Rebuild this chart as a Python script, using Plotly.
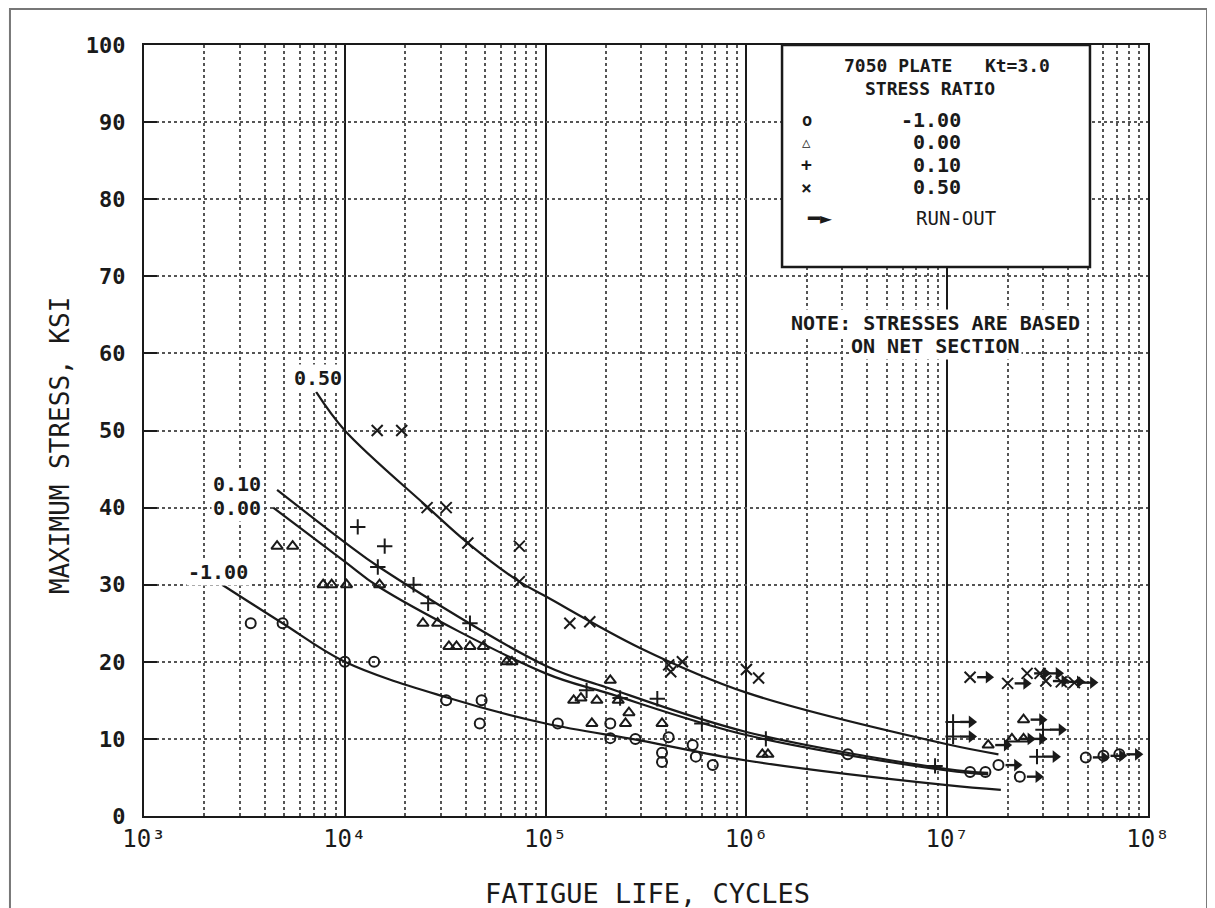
import numpy as np
import plotly.graph_objects as go

# ---------------- data ----------------
# Fitted curves (N cycles, max stress ksi)
C050_N = [7.2e3, 1.0e4, 2.6e4, 4.1e4, 7.4e4, 1.0e5, 2.95e5, 1.0e6, 1.0e7, 1.8e7]
C050_S = [55, 50, 40, 35.4, 30.4, 28.5, 21.8, 16.0, 9.3, 8.0]
C010_N = [4.6e3, 1.0e4, 1.48e4, 1.0e5, 2.0e5, 1.0e6, 1.0e7, 1.6e7]
C010_S = [42.3, 35.5, 32.3, 19.5, 16.7, 10.9, 6.1, 5.6]
C000_N = [4.4e3, 1.0e4, 1.48e4, 1.0e5, 2.0e5, 1.0e6, 1.0e7, 1.6e7]
C000_S = [40.0, 33.0, 29.7, 18.5, 16.0, 10.5, 5.9, 5.4]
CM100_N = [2.45e3, 4.9e3, 1.0e4, 3.2e4, 1.0e5, 2.95e5, 1.0e6, 1.0e7, 1.85e7]
CM100_S = [30, 25, 20, 15.4, 12, 9.8, 7.2, 4.0, 3.4]

# Test points, R = -1.00 (circles)
RM100_N = [3.4e3, 4.9e3, 1.0e4, 1.4e4, 3.2e4, 4.8e4, 4.7e4, 1.15e5, 2.1e5, 2.1e5,
           2.8e5, 4.1e5, 3.8e5, 3.8e5, 5.4e5, 5.6e5, 6.8e5, 3.2e6, 1.3e7, 1.55e7]
RM100_S = [25, 25, 20, 20, 15, 15, 12, 12, 12, 10.1,
           10, 10.2, 8.2, 7.0, 9.2, 7.7, 6.6, 8.0, 5.7, 5.7]
RM100_RUN_N = [1.8e7, 2.3e7, 4.9e7, 6.0e7, 7.2e7]
RM100_RUN_S = [6.6, 5.1, 7.6, 7.8, 8.0]

# R = 0.00 (triangles)
R000_N = [4.6e3, 5.5e3, 7.8e3, 8.6e3, 1.02e4, 1.49e4, 2.45e4, 2.9e4, 3.3e4, 3.6e4,
          4.2e4, 4.9e4, 6.4e4, 6.8e4, 1.38e5, 1.5e5, 1.8e5, 2.3e5, 2.1e5, 1.7e5,
          2.6e5, 2.5e5, 3.8e5, 1.2e6, 1.28e6]
R000_S = [35, 35, 30, 30, 30, 30, 25, 25, 22, 22,
          22, 22, 20, 20, 15, 15.3, 15, 15, 17.6, 12,
          13.4, 12, 12, 8, 8]
R000_RUN_N = [2.4e7, 1.6e7, 2.1e7, 2.4e7]
R000_RUN_S = [12.5, 9.2, 10.0, 10.0]

# R = 0.10 (plus)
R010_N = [1.16e4, 1.58e4, 1.46e4, 2.2e4, 2.6e4, 4.2e4, 1.6e5, 2.35e5, 3.6e5, 6.0e5,
          1.25e6, 8.7e6]
R010_S = [37.5, 35, 32.3, 30, 27.6, 25, 16.3, 15.3, 15.2, 12,
          10, 6.5]
R010_RUN_N = [1.07e7, 1.07e7, 3.0e7, 2.8e7]
R010_RUN_S = [12.2, 10.3, 11.2, 7.7]

# R = 0.50 (x)
R050_N = [1.45e4, 1.92e4, 2.57e4, 3.2e4, 4.1e4, 7.4e4, 7.4e4, 1.32e5, 1.66e5, 4.1e5,
          4.2e5, 4.8e5, 1.0e6, 1.15e6]
R050_S = [50, 50, 40, 40, 35.4, 35, 30.4, 25, 25.2, 19.6,
          18.7, 20, 19, 17.9]
R050_RUN_N = [1.3e7, 2.0e7, 2.5e7, 2.9e7, 3.1e7, 3.7e7, 4.3e7]
R050_RUN_S = [18, 17.2, 18.5, 18.5, 17.5, 17.4, 17.3]

X_TICKS = [1e3, 1e4, 1e5, 1e6, 1e7, 1e8]
X_TICKTEXT = ["10³", "10⁴", "10⁵", "10⁶", "10⁷", "10⁸"]
Y_TICKS = list(range(0, 101, 10))

# ---------------- figure ----------------
FONT = "DejaVu Sans Mono"
INK = "#1a1a1a"

fig = go.Figure()

for cn, cs in [(C050_N, C050_S), (C010_N, C010_S), (C000_N, C000_S), (CM100_N, CM100_S)]:
    fig.add_trace(go.Scatter(x=cn, y=cs, mode="lines",
                             line=dict(color=INK, width=2.2, shape="spline"),
                             hoverinfo="skip", showlegend=False))

# run-out arrow geometry: a fixed offset along the log axis, right of each point
SHAFT0, SHAFT1 = 10 ** 0.035, 10 ** 0.092

series = [
    (RM100_N, RM100_S, RM100_RUN_N, RM100_RUN_S, "circle-open", 10),
    (R000_N, R000_S, R000_RUN_N, R000_RUN_S, "triangle-up-open", 10),
    (R010_N, R010_S, R010_RUN_N, R010_RUN_S, "cross-thin-open", 11),
    (R050_N, R050_S, R050_RUN_N, R050_RUN_S, "x-thin-open", 11),
]
for n, s, rn, rs, sym, sz in series:
    fig.add_trace(go.Scatter(x=n + rn, y=s + rs, mode="markers",
                             marker=dict(symbol=sym, size=sz, color=INK,
                                         line=dict(width=2, color=INK)),
                             showlegend=False))
    sx, sy = [], []
    for xn, ys in zip(rn, rs):
        sx += [xn * SHAFT0, xn * SHAFT1, None]
        sy += [ys, ys, None]
    fig.add_trace(go.Scatter(x=sx, y=sy, mode="lines",
                             line=dict(color=INK, width=2.4),
                             hoverinfo="skip", showlegend=False))
    fig.add_trace(go.Scatter(x=[xn * SHAFT1 for xn in rn], y=rs, mode="markers",
                             marker=dict(symbol="triangle-right", size=11, color=INK),
                             hoverinfo="skip", showlegend=False))

minor_x = [m * 10 ** d for d in range(3, 8) for m in range(2, 10)]

fig.update_xaxes(type="log", range=[3, 8], tickvals=X_TICKS, ticktext=X_TICKTEXT,
                 showgrid=True, gridcolor=INK, gridwidth=2,
                 showline=True, linecolor=INK, linewidth=2, mirror=True,
                 ticks="", ticklabelstandoff=0,
                 tickfont=dict(family=FONT, size=24, color=INK),
                 minor=dict(tickvals=minor_x, showgrid=True, gridcolor="#555",
                            griddash="dot", gridwidth=1.6, ticks=""),
                 zeroline=False)
fig.update_yaxes(range=[0, 100], tickvals=Y_TICKS,
                 showgrid=True, gridcolor="#555", griddash="dot", gridwidth=1.6,
                 showline=True, linecolor=INK, linewidth=2, mirror=True,
                 ticks="inside", ticklen=13, tickwidth=2, tickcolor=INK,
                 ticklabelstandoff=12,
                 tickfont=dict(family=FONT, size=22, color=INK, weight="bold"),
                 zeroline=False)

# outer frame
fig.add_shape(type="rect", xref="paper", yref="paper",
              x0=-0.1335, x1=1.0588, y0=-0.2, y1=1.0467,
              line=dict(color="#777", width=2), fillcolor="rgba(0,0,0,0)", layer="below")

# legend box
fig.add_shape(type="rect", xref="paper", yref="paper",
              x0=0.6355, x1=0.9422, y0=0.712, y1=1.0,
              line=dict(color=INK, width=2.5), fillcolor="white", layer="above")

def txt(x, y, t, size=19, xanchor="center", bg=None, weight="bold"):
    fig.add_annotation(x=x, y=y, xref="paper", yref="paper",
                       text=t, showarrow=False, xanchor=xanchor, yanchor="middle",
                       font=dict(family=FONT, size=size, color=INK, weight=weight),
                       bgcolor=bg)

txt(0.800, 0.9735, "7050 PLATE   Kt=3.0", size=18)
txt(0.783, 0.9435, "STRESS RATIO", size=18)
txt(0.660, 0.9027, "o", size=17)
txt(0.660, 0.8742, "△", size=14)
txt(0.660, 0.8444, "+", size=18)
txt(0.660, 0.8158, "×", size=18)
txt(0.8157, 0.9027, "-1.00", xanchor="right", size=20)
txt(0.8157, 0.8742, "0.00", xanchor="right", size=20)
txt(0.8157, 0.8444, "0.10", xanchor="right", size=20)
txt(0.8157, 0.8158, "0.50", xanchor="right", size=20)
txt(0.809, 0.7756, "RUN-OUT", size=19, weight="normal")
txt(0.6725, 0.7756, "━►", size=20, weight="bold")

# note
txt(0.788, 0.6394, "NOTE: STRESSES ARE BASED", size=20, bg="white")
txt(0.788, 0.6096, "ON NET SECTION", size=20, bg="white")

# curve labels (data coordinates)
for lx, ly, lt in [(3.866, 56.8, "0.50"), (3.463, 43.1, "0.10"),
                   (3.463, 39.9, "0.00"), (3.368, 31.6, "-1.00")]:
    fig.add_annotation(x=lx, y=ly, xref="x", yref="y", text=lt, showarrow=False,
                       xanchor="center", yanchor="middle",
                       font=dict(family=FONT, size=20, color=INK, weight="bold"),
                       bgcolor="white")

# axis titles
fig.add_annotation(x=0.501, y=-0.0999, xref="paper", yref="paper",
                   text="FATIGUE LIFE, CYCLES", showarrow=False,
                   xanchor="center", yanchor="middle",
                   font=dict(family=FONT, size=27, color=INK))
fig.add_annotation(x=-0.0837, y=0.481, xref="paper", yref="paper",
                   text="MAXIMUM STRESS, KSI", showarrow=False, textangle=-90,
                   xanchor="center", yanchor="middle",
                   font=dict(family=FONT, size=26, color=INK))

fig.update_layout(width=1207, height=900,
                  margin=dict(l=136, r=67, t=37, b=92),
                  paper_bgcolor="white", plot_bgcolor="white",
                  showlegend=False)

fig.write_html("out.html")
